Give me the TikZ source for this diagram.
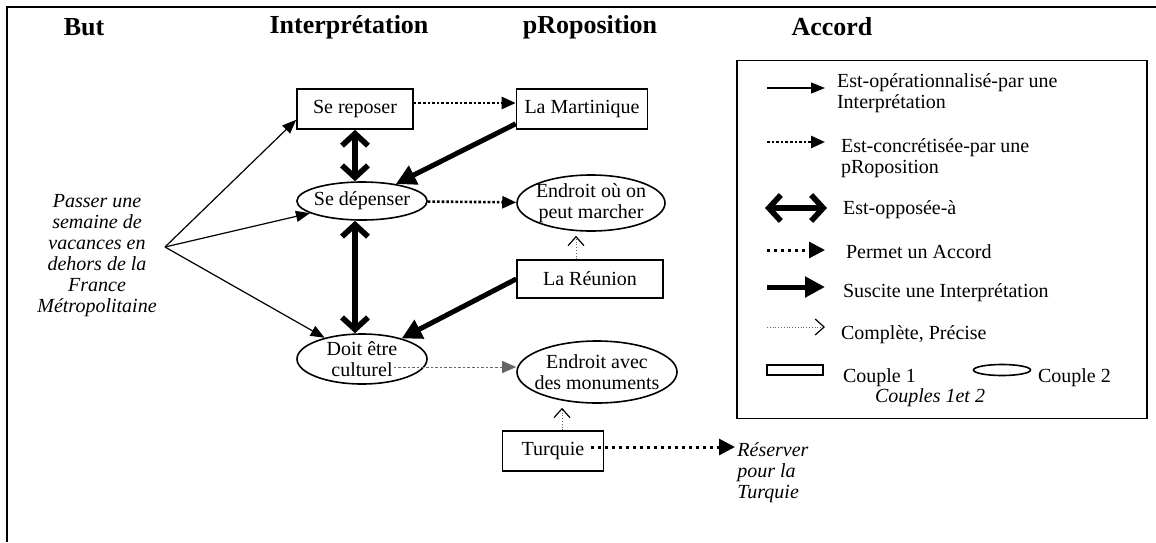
\documentclass[tikz,border=0pt]{standalone}
\usepackage{fontspec}
\setmainfont{Liberation Serif}
\usetikzlibrary{shapes.geometric,arrows.meta}

\tikzstyle{titre}    = [font=\fontsize{13}{15}\selectfont\bfseries]
\tikzstyle{but}      = [align=center, font=\fontsize{10}{10.5}\selectfont\itshape]
\tikzstyle{couple1}  = [rectangle, draw, line width=0.8pt, text centered, minimum height=20pt]
\tikzstyle{couple2}  = [ellipse, draw, line width=0.8pt, align=center, inner sep=0pt]
\tikzstyle{operat}   = [line width=0.6pt, -{Triangle[length=7pt,width=5.5pt]}]
\tikzstyle{concret}  = [line width=1.3pt, densely dotted, -{Triangle[length=7pt,width=6pt]}]
\tikzstyle{oppose}   = [line width=2.8pt, {Straight Barb[length=6pt,width=13pt]}-{Straight Barb[length=6pt,width=13pt]}]
\tikzstyle{accord}   = [line width=1.5pt, dotted, -{Triangle[length=8pt,width=8pt]}]
\tikzstyle{suscite}  = [line width=2.5pt, -{Triangle[length=10pt,width=10pt]}]
\tikzstyle{complete} = [line width=0.4pt, densely dotted, black!60, -{Straight Barb[length=4.5pt,width=8pt,line width=0.6pt,color=black]}]

\begin{document}
\begin{tikzpicture}[x=0.5pt, y=-0.5pt, font=\fontsize{10}{10.5}\selectfont]
\useasboundingbox (0,0) rectangle (1156,542);
\draw [line width=1pt] (7,542) -- (7,7) -- (1156,7);

% titres des colonnes
\node (but)    [titre] at (84,27)  {But};
\node (interp) [titre] at (349,27) {Interprétation};
\node (propos) [titre] at (590,27) {pRoposition};
\node (accord) [titre] at (832,27) {Accord};

% but et interpretations
\node (vacances) [but] at (97,256) {Passer une\\semaine de\\vacances en\\dehors de la\\France\\Métropolitaine};
\coordinate (fan) at (165,247);
\node (reposer)  [couple1, minimum width=58pt] at (355,109) {Se reposer};
\node (depenser) [couple2, inner xsep=-1pt, minimum width=65pt, minimum height=19pt] at (362,201) {Se dépenser};
\node (culturel) [couple2, inner ysep=-4pt, minimum width=65pt, minimum height=25pt] at (362,359) {Doit être\\culturel};

% propositions
\node (martinique) [couple1, minimum width=65.5pt] at (582,109) {La Martinique};
\node (marcher)    [couple2, inner xsep=-1.5pt, inner ysep=-2pt, minimum width=74pt, minimum height=28pt] at (591,203) {Endroit où on\\peut marcher};
\node (reunion)    [couple1, minimum width=73pt, minimum height=19pt] at (590,279) {La Réunion};
\node (monuments)  [couple2, inner xsep=-3pt, inner ysep=-2pt, minimum width=80pt, minimum height=31pt] at (597,372) {Endroit avec\\des monuments};
\node (turquie)    [couple1, minimum width=50.5pt] at (553,451) {Turquie};
\node (reserver)   [but, align=left, anchor=north west, inner xsep=1pt] at (735,436) {Réserver\\pour la\\Turquie};

\draw [operat] (fan) -- ([yshift=5pt]reposer.south west);
\draw [operat] (fan) -- (depenser);
\draw [operat] (fan) -- (culturel);
\draw [oppose] (reposer.south) -- (reposer.south |- depenser.north);
\draw [oppose] (reposer.south |- depenser.south) -- (reposer.south |- culturel.north);
\draw [concret] ([yshift=3pt]reposer.east) -- ([yshift=3pt]martinique.west);
\draw [concret] (depenser) -- (marcher);
\draw [concret, line width=0.5pt, black!60] ([xshift=-17pt,yshift=-4pt]culturel.east) -- ([yshift=-4pt]culturel.east -| monuments.west);
\draw [suscite] ([yshift=3pt]martinique.south west) -- (depenser);
\draw [suscite] (reunion.west) -- (culturel);
\draw [complete, shorten >=2pt] ([xshift=-7pt]reunion.north) -- ([xshift=-7pt]reunion.north |- marcher.south);
\draw [complete, shorten >=2pt] ([xshift=4.5pt]turquie.north) -- ([xshift=4.5pt]turquie.north |- monuments.south);
\draw [accord] ([xshift=-6.5pt,yshift=2pt]turquie.east) -- ([yshift=2pt]turquie.east -| reserver.west);

% legende
\node (legende) [draw, line width=0.8pt, minimum width=205pt, minimum height=179pt] at (942,239.5) {};
\coordinate (l1a) at (767,88);  \coordinate (l1b) at (825,88);
\coordinate (l2a) at (767,142); \coordinate (l2b) at (825,142);
\coordinate (l3a) at (765,208); \coordinate (l3b) at (827,208);
\coordinate (l4a) at (767,250); \coordinate (l4b) at (825,250);
\coordinate (l5a) at (767,287); \coordinate (l5b) at (825,287);
\coordinate (l6a) at (767,327); \coordinate (l6b) at (825,327);
\draw [operat]   (l1a) -- (l1b);
\draw [concret]  (l2a) -- (l2b);
\draw [oppose]   (l3a) -- (l3b);
\draw [accord]   (l4a) -- (l4b);
\draw [suscite]  (l5a) -- (l5b);
\draw [complete] (l6a) -- (l6b);
\node (t1) [anchor=west, align=left] at (830,93)  {Est-opérationnalisé-par une\\Interprétation};
\node (t2) [anchor=west, align=left] at (834,158) {Est-concrétisée-par une\\pRoposition};
\node (t3) [anchor=west] at (836,210) {Est-opposée-à};
\node (t4) [anchor=west] at (839,252) {Permet un Accord};
\node (t5) [anchor=west] at (836,293) {Suscite une Interprétation};
\node (t6) [anchor=west] at (834,335) {Complète, Précise};
\node (c1) [draw, line width=0.8pt, minimum width=28pt, minimum height=5pt, inner sep=0pt] at (795,370) {};
\node (t7) [anchor=west] at (836,378) {Couple 1};
\node (c2) [ellipse, draw, line width=0.8pt, minimum width=28.5pt, minimum height=5.5pt, inner sep=0pt] at (1002,370) {};
\node (t8) [anchor=west] at (1031,378) {Couple 2};
\node (t9) [font=\fontsize{10}{10.5}\selectfont\itshape] at (930,398) {Couples 1et 2};
\end{tikzpicture}
\end{document}
